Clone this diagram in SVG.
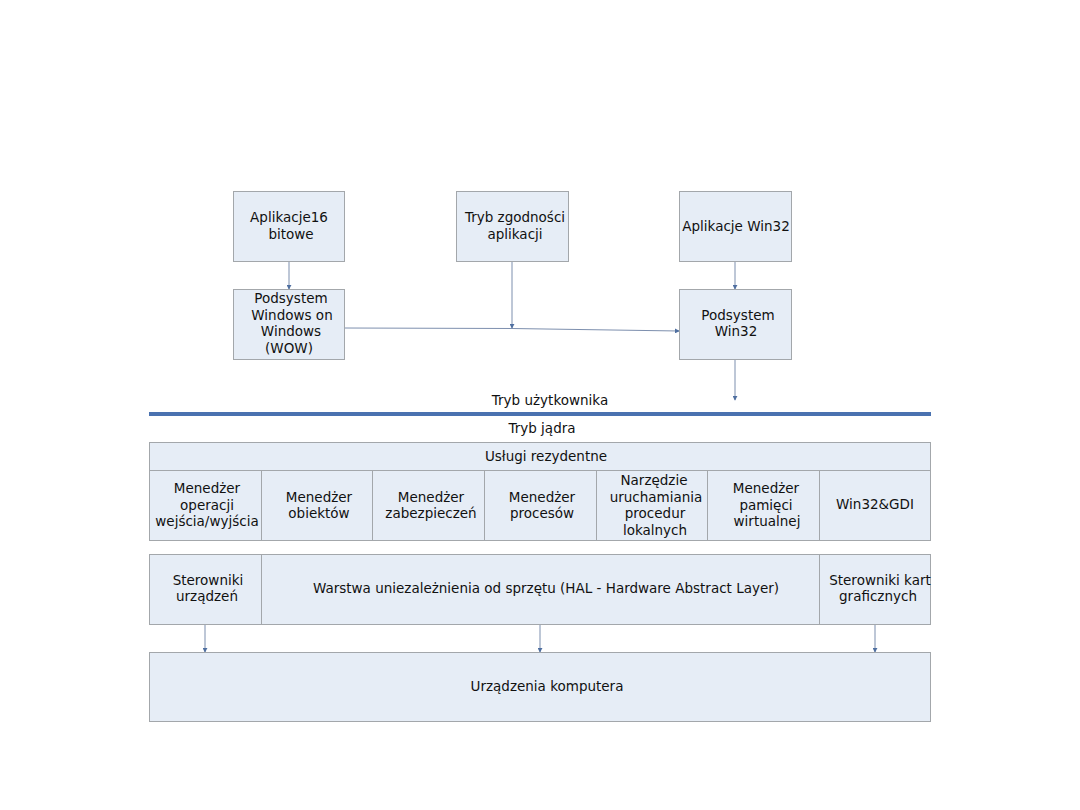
<svg xmlns="http://www.w3.org/2000/svg" width="1080" height="810" viewBox="0 0 1080 810">
<style>
.b{fill:#e6edf6;stroke:#a3a7ab;stroke-width:1}
.t{font-family:"DejaVu Sans",sans-serif;font-size:13.5px;fill:#111;text-anchor:middle}
.c{stroke:#7d8fae;stroke-width:1;fill:none;marker-end:url(#ah)}
</style>
<defs>
<marker id="ah" viewBox="0 0 6 6" refX="5" refY="3" markerWidth="5" markerHeight="5" orient="auto" markerUnits="userSpaceOnUse">
<path d="M0,0 L6,3 L0,6 Z" fill="#4f6fa0"/>
</marker>
</defs>
<rect width="1080" height="810" fill="#fff"/>
<g id="connectors">
<line class="c" x1="289" y1="261" x2="289" y2="289"/>
<line class="c" x1="512" y1="261" x2="512" y2="328"/>
<path class="c" d="M344,328 L512,328.5 L679,331"/>
<line class="c" x1="735" y1="261" x2="735" y2="289"/>
<line class="c" x1="735" y1="359" x2="735" y2="400"/>
<line class="c" x1="205" y1="624" x2="205" y2="652"/>
<line class="c" x1="540" y1="624" x2="540" y2="652"/>
<line class="c" x1="875" y1="624" x2="875" y2="652"/>
</g>
<g id="app16"><rect class="b" x="233.5" y="191.5" width="111" height="70"/><text class="t" x="289" y="222">Aplikacje16</text><text class="t" x="291" y="239">bitowe</text></g>
<g id="compat"><rect class="b" x="456.5" y="191.5" width="112" height="70"/><text class="t" x="515" y="222">Tryb zgodności</text><text class="t" x="515" y="239">aplikacji</text></g>
<g id="appwin32"><rect class="b" x="679.5" y="191.5" width="112" height="70"/><text class="t" x="736" y="231">Aplikacje Win32</text></g>
<g id="wow"><rect class="b" x="233.5" y="289.5" width="111" height="70"/><text class="t" x="291" y="303">Podsystem</text><text class="t" x="292" y="320">Windows on</text><text class="t" x="291" y="336">Windows</text><text class="t" x="289" y="353">(WOW)</text></g>
<g id="win32sub"><rect class="b" x="679.5" y="289.5" width="112" height="70"/><text class="t" x="738" y="320">Podsystem</text><text class="t" x="736" y="336">Win32</text></g>
<g id="modes">
<text class="t" x="550" y="405">Tryb użytkownika</text>
<line x1="149" y1="414" x2="931" y2="414" stroke="#4a72b0" stroke-width="4"/>
<text class="t" x="542" y="433">Tryb jądra</text>
</g>
<g id="services"><rect class="b" x="149.5" y="442.5" width="781" height="28"/><text class="t" x="546" y="461">Usługi rezydentne</text></g>
<g id="io"><rect class="b" x="149.5" y="470.5" width="112" height="70"/><text class="t" x="207" y="493">Menedżer</text><text class="t" x="207" y="510">operacji</text><text class="t" x="207" y="526">wejścia/wyjścia</text></g>
<g id="obj"><rect class="b" x="261.5" y="470.5" width="111" height="70"/><text class="t" x="319" y="502">Menedżer</text><text class="t" x="319" y="518">obiektów</text></g>
<g id="sec"><rect class="b" x="372.5" y="470.5" width="112" height="70"/><text class="t" x="431" y="502">Menedżer</text><text class="t" x="431" y="518">zabezpieczeń</text></g>
<g id="proc"><rect class="b" x="484.5" y="470.5" width="112" height="70"/><text class="t" x="542" y="502">Menedżer</text><text class="t" x="542" y="518">procesów</text></g>
<g id="lpc"><rect class="b" x="596.5" y="470.5" width="111" height="70"/><text class="t" x="654" y="485">Narzędzie</text><text class="t" x="656" y="502">uruchamiania</text><text class="t" x="655" y="518">procedur</text><text class="t" x="655" y="535">lokalnych</text></g>
<g id="vmm"><rect class="b" x="707.5" y="470.5" width="112" height="70"/><text class="t" x="766" y="493">Menedżer</text><text class="t" x="766" y="510">pamięci</text><text class="t" x="767" y="526">wirtualnej</text></g>
<g id="gdi"><rect class="b" x="819.5" y="470.5" width="111" height="70"/><text class="t" x="875" y="509">Win32&amp;GDI</text></g>
<g id="drivers"><rect class="b" x="149.5" y="554.5" width="112" height="70"/><text class="t" x="208" y="585">Sterowniki</text><text class="t" x="207" y="601">urządzeń</text></g>
<g id="hal"><rect class="b" x="261.5" y="554.5" width="558" height="70"/><text class="t" x="546" y="593">Warstwa uniezależnienia od sprzętu (HAL - Hardware Abstract Layer)</text></g>
<g id="gfx"><rect class="b" x="819.5" y="554.5" width="111" height="70"/><text class="t" x="880" y="585">Sterowniki kart</text><text class="t" x="878" y="601">graficznych</text></g>
<g id="hw"><rect class="b" x="149.5" y="652.5" width="781" height="69"/><text class="t" x="547" y="691">Urządzenia komputera</text></g>
</svg>
